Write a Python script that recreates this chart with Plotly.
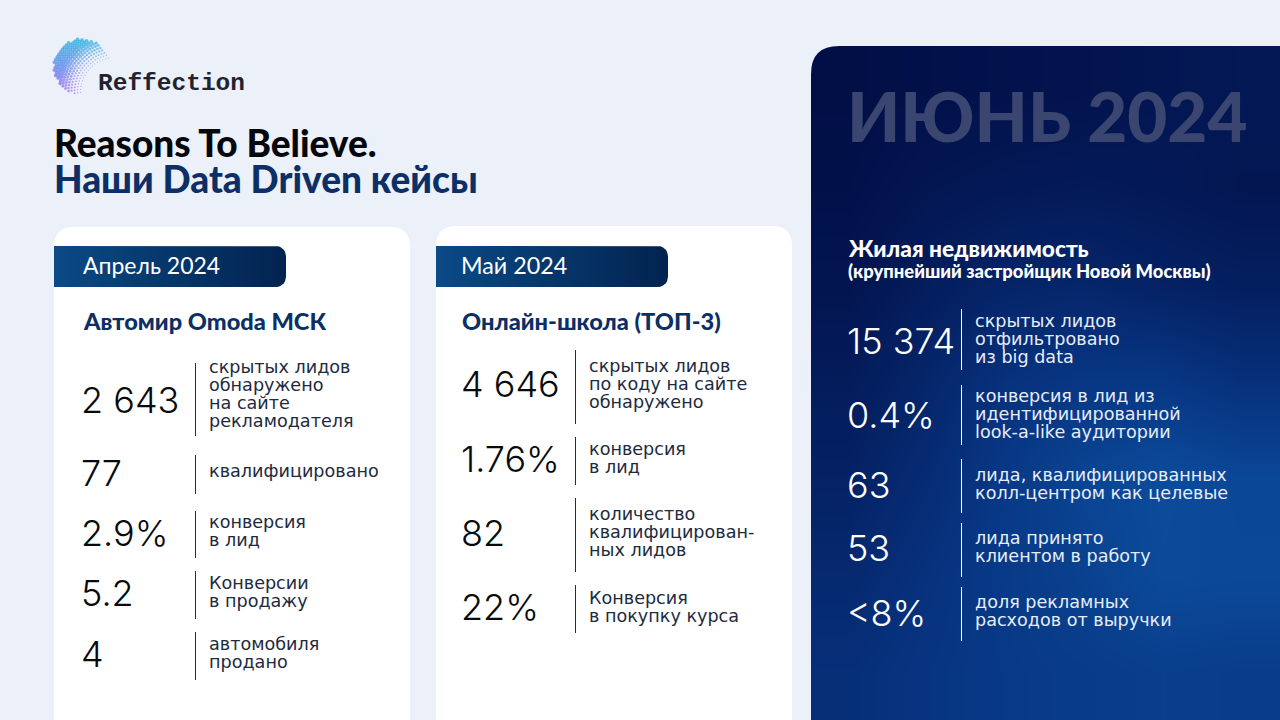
import numpy as np
import plotly.graph_objs as go

# --- chart content ---
april_values = ["2 643", "77", "2.9%", "5.2", "4"]
april_texts = [
    ["скрытых лидов", "обнаружено", "на сайте", "рекламодателя"],
    ["квалифицировано"],
    ["конверсия", "в лид"],
    ["Конверсии", "в продажу"],
    ["автомобиля", "продано"],
]
may_values = ["4 646", "1.76%", "82", "22%"]
may_texts = [
    ["скрытых лидов", "по коду на сайте", "обнаружено"],
    ["конверсия", "в лид"],
    ["количество", "квалифицирован-", "ных лидов"],
    ["Конверсия", "в покупку курса"],
]
june_values = ["15 374", "0.4%", "63", "53", "<8%"]
june_texts = [
    ["скрытых лидов", "отфильтровано", "из big data"],
    ["конверсия в лид из", "идентифицированной", "look-a-like аудитории"],
    ["лида, квалифицированных", "колл-центром как целевые"],
    ["лида принято", "клиентом в работу"],
    ["доля рекламных", "расходов от выручки"],
]

# panel brightness, rows top to bottom
panel_shade = [
    [0.00, 0.02, 0.04, 0.06, 0.10, 0.12],
    [0.02, 0.10, 0.14, 0.16, 0.14, 0.10],
    [0.08, 0.20, 0.30, 0.32, 0.26, 0.22],
    [0.18, 0.32, 0.48, 0.56, 0.56, 0.46],
    [0.26, 0.40, 0.58, 0.74, 0.84, 0.78],
    [0.36, 0.48, 0.60, 0.70, 0.82, 0.80],
    [0.44, 0.52, 0.58, 0.62, 0.66, 0.64],
]

# --- layout (pixels) ---
BG = "#ecf0f8"
NAVY = "#0b2f66"
SANS = "Inter, Noto Sans, sans-serif"
WIDE = "DejaVu Sans, sans-serif"
HEAD = "Lato, Noto Sans, sans-serif"
LOGO = "Liberation Mono, monospace"

april_rows = [
    (401, 363, 436, [368, 386, 404, 422]),
    (474, 455, 494, [472]),
    (534, 511, 558, [523, 541]),
    (594, 571, 619, [584, 602]),
    (655, 632, 680, [645, 663]),
]
may_rows = [
    (385, 350, 424, [367, 385, 403]),
    (460, 437, 485, [450, 468]),
    (534, 498, 572, [515, 533, 551]),
    (608, 585, 633, [599, 617]),
]
june_rows = [
    (342, 309, 370, [322, 340, 358]),
    (416, 385, 445, [397, 415, 433]),
    (486, 459, 513, [476, 494]),
    (549, 523, 577, [539, 557]),
    (614, 587, 641, [603, 621]),
]

fig = go.Figure()
shapes = []
notes = []


def add_text(x, y, s, size, color, family=SANS, weight=400):
    # annotations keep a small pad round the text, take it off here
    notes.append(dict(x=x - 3, y=y - 1, text=s, xref="x", yref="y", showarrow=False,
                      xanchor="left", yanchor="middle", align="left",
                      font=dict(family=family, size=size, color=color, weight=weight)))


def top_round_card(x0, y0, x1, y1, r):
    return (f"M {x0} {y1} L {x0} {y0+r} Q {x0} {y0} {x0+r} {y0} "
            f"L {x1-r} {y0} Q {x1} {y0} {x1} {y0+r} L {x1} {y1} Z")


def add_tab(x0, y0, x1, y1, r=10):
    # square on the left, rounded on the right
    xs = [x0, x1 - r]
    ys = [y0, y0]
    t = np.linspace(-np.pi / 2, 0, 8)
    xs += list(x1 - r + r * np.cos(t))
    ys += list(y0 + r + r * np.sin(t))
    t = np.linspace(0, np.pi / 2, 8)
    xs += list(x1 - r + r * np.cos(t))
    ys += list(y1 - r + r * np.sin(t))
    xs += [x0, x0]
    ys += [y1, y0]
    fig.add_trace(go.Scatter(x=xs, y=ys, mode="lines", fill="toself",
                             line=dict(width=0), hoverinfo="skip",
                             fillgradient=dict(type="horizontal",
                                               colorscale=[[0, "#0a4a86"], [1, "#02234f"]])))


def add_rows(values, texts, rows, x_val, x_div, x_txt, val_color, txt_color, div_color):
    for val, lines, (yv, d0, d1, ys) in zip(values, texts, rows):
        add_text(x_val, yv, val, 36, val_color, weight=300)
        shapes.append(dict(type="line", x0=x_div + 0.5, x1=x_div + 0.5, y0=d0, y1=d1,
                           line=dict(color=div_color, width=1)))
        for line, y in zip(lines, ys):
            add_text(x_txt, y, line, 17.6, txt_color, family=WIDE)


# dark panel, x and y are the cell edges
fig.add_trace(go.Heatmap(
    z=panel_shade,
    x=[811, 889, 967, 1045, 1124, 1202, 1280],
    y=[46, 142, 238, 335, 431, 527, 624, 720],
    zsmooth="best", zmin=0, zmax=1, showscale=False, hoverinfo="skip",
    colorscale=[[0, "#020f47"], [0.5, "#07337f"], [1, "#0d57a8"]],
))
# rounded corner of the panel
shapes.append(dict(type="path", path="M 811 46 L 839 46 Q 811 46 811 74 Z",
                   fillcolor=BG, line=dict(width=0)))

# white cards
shapes.append(dict(type="path", path=top_round_card(54, 227, 410, 740, 20),
                   fillcolor="white", line=dict(width=0), layer="below"))
shapes.append(dict(type="path", path=top_round_card(436, 226, 792, 740, 20),
                   fillcolor="white", line=dict(width=0), layer="below"))
add_tab(54, 246, 286, 287)
add_tab(436, 246, 668, 287)

# logo: dotted crescent
lx, ly, lr = 82, 67, 28
cx, cy, cr = 115, 92, 33
dot_x, dot_y, dot_size, dot_color = [], [], [], []
for ring in np.arange(cr + 1.5, 68, 3.0):
    for a in np.arange(0, 2 * np.pi, 3.0 / ring):
        px = cx + ring * np.cos(a)
        py = cy + ring * np.sin(a)
        if np.hypot(px - lx, py - ly) > lr:
            continue
        k = min((ring - cr) / 24, 1)
        tone = (py - (ly - lr)) / (2 * lr)
        r = int(30 + 110 * tone + (1 - k) * 70)
        g = int(175 - 95 * tone + (1 - k) * 40)
        b = int(225 + 20 * tone)
        dot_x.append(px)
        dot_y.append(py)
        dot_size.append(1.0 + 2.8 * k)
        dot_color.append(f"rgb({min(r, 255)},{min(g, 255)},{b})")
fig.add_trace(go.Scatter(x=dot_x, y=dot_y, mode="markers", hoverinfo="skip",
                         marker=dict(size=dot_size, color=dot_color, line=dict(width=0))))
add_text(99, 84, "Reffection", 24.5, "#1f2430", family=LOGO, weight=700)

# headings
add_text(55, 143, "Reasons To Believe.", 37, "#06070c", family=HEAD, weight=900)
add_text(55, 179, "Наши Data Driven кейсы", 37, NAVY, family=HEAD, weight=900)
add_text(84, 266, "Апрель 2024", 23, "white", family=HEAD)
add_text(462, 266, "Май 2024", 23.3, "white", family=HEAD)
add_text(84, 322, "Автомир Omoda МСК", 23.6, NAVY, family=HEAD, weight=900)
add_text(463, 322, "Онлайн-школа (ТОП-3)", 23.6, NAVY, family=HEAD, weight=900)
add_text(848, 116, "ИЮНЬ 2024", 69, "#3a4670", family=HEAD, weight=900)
add_text(849, 249, "Жилая недвижимость", 22.7, "white", family=HEAD, weight=900)
add_text(849, 272, "(крупнейший застройщик Новой Москвы)", 18.4, "white", family=HEAD, weight=900)

add_rows(april_values, april_texts, april_rows, 82, 195, 210, "#08090d", "#1d2a40", NAVY)
add_rows(may_values, may_texts, may_rows, 462, 575, 590, "#08090d", "#1d2a40", NAVY)
add_rows(june_values, june_texts, june_rows, 848, 961, 976, "white", "#e6edf8", "white")

fig.update_layout(
    width=1280, height=720, margin=dict(l=0, r=0, t=0, b=0),
    paper_bgcolor=BG, plot_bgcolor=BG, showlegend=False,
    xaxis=dict(range=[0, 1280], visible=False, fixedrange=True),
    yaxis=dict(range=[720, 0], visible=False, fixedrange=True),
    shapes=shapes, annotations=notes,
)
fig.write_html("out.html", post_script="document.body.style.margin='0';document.body.style.overflow='hidden';",
               config=dict(displayModeBar=False))
